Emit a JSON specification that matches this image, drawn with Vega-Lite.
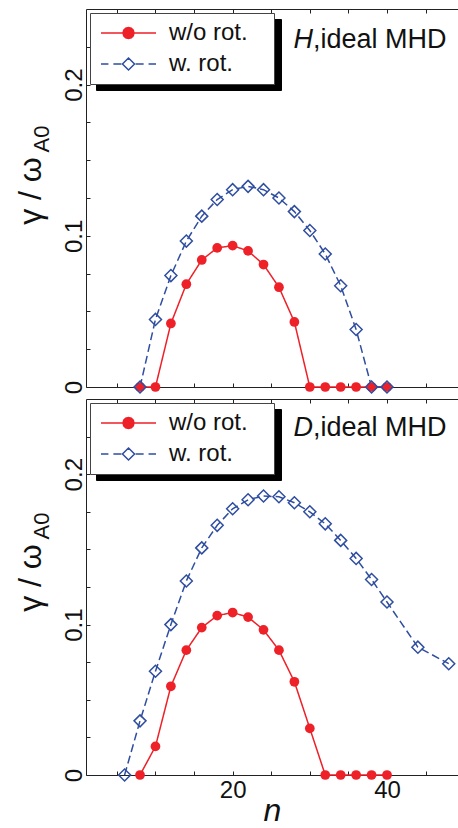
{
  "$schema": "https://vega.github.io/schema/vega-lite/v6.json",
  "background": "white",
  "padding": {"left": 14, "top": 8, "right": 0, "bottom": 0},
  "autosize": {"type": "pad"},
  "spacing": 2,
  "config": {
    "view": {"stroke": null},
    "font": "Liberation Sans",
    "axis": {
      "grid": false, "domainColor": "#222", "tickColor": "#222", "domainWidth": 1, "tickWidth": 1,
      "labelFont": "Liberation Sans", "titleFont": "Liberation Sans", "labelFontSize": 24,
      "labelColor": "#111", "titleColor": "#111", "titleFontWeight": "normal", "tickSize": -4
    },
    "legend": {
      "title": null, "padding": 8, "labelFont": "Liberation Sans", "labelFontSize": 24, "labelColor": "#111",
      "symbolSize": 576, "clipHeight": 24, "rowPadding": 7, "symbolOffset": 2, "labelOffset": 12,
      "symbolStrokeWidth": 1.5
    }
  },
  "datasets": {
    "curves": [
      {"panel": "H", "series": "w/o rot.", "n": 8, "g": 0},
      {"panel": "H", "series": "w/o rot.", "n": 10, "g": 0},
      {"panel": "H", "series": "w/o rot.", "n": 12, "g": 0.042},
      {"panel": "H", "series": "w/o rot.", "n": 14, "g": 0.068},
      {"panel": "H", "series": "w/o rot.", "n": 16, "g": 0.084},
      {"panel": "H", "series": "w/o rot.", "n": 18, "g": 0.092},
      {"panel": "H", "series": "w/o rot.", "n": 20, "g": 0.0935},
      {"panel": "H", "series": "w/o rot.", "n": 22, "g": 0.090},
      {"panel": "H", "series": "w/o rot.", "n": 24, "g": 0.081},
      {"panel": "H", "series": "w/o rot.", "n": 26, "g": 0.066},
      {"panel": "H", "series": "w/o rot.", "n": 28, "g": 0.043},
      {"panel": "H", "series": "w/o rot.", "n": 30, "g": 0},
      {"panel": "H", "series": "w/o rot.", "n": 32, "g": 0},
      {"panel": "H", "series": "w/o rot.", "n": 34, "g": 0},
      {"panel": "H", "series": "w/o rot.", "n": 36, "g": 0},
      {"panel": "H", "series": "w/o rot.", "n": 38, "g": 0},
      {"panel": "H", "series": "w/o rot.", "n": 40, "g": 0},
      {"panel": "H", "series": "w. rot.", "n": 8, "g": 0},
      {"panel": "H", "series": "w. rot.", "n": 10, "g": 0.0447},
      {"panel": "H", "series": "w. rot.", "n": 12, "g": 0.0737},
      {"panel": "H", "series": "w. rot.", "n": 14, "g": 0.0965},
      {"panel": "H", "series": "w. rot.", "n": 16, "g": 0.113},
      {"panel": "H", "series": "w. rot.", "n": 18, "g": 0.124},
      {"panel": "H", "series": "w. rot.", "n": 20, "g": 0.1305},
      {"panel": "H", "series": "w. rot.", "n": 22, "g": 0.1327},
      {"panel": "H", "series": "w. rot.", "n": 24, "g": 0.1305},
      {"panel": "H", "series": "w. rot.", "n": 26, "g": 0.125},
      {"panel": "H", "series": "w. rot.", "n": 28, "g": 0.116},
      {"panel": "H", "series": "w. rot.", "n": 30, "g": 0.1035},
      {"panel": "H", "series": "w. rot.", "n": 32, "g": 0.088},
      {"panel": "H", "series": "w. rot.", "n": 34, "g": 0.067},
      {"panel": "H", "series": "w. rot.", "n": 36, "g": 0.038},
      {"panel": "H", "series": "w. rot.", "n": 38, "g": 0},
      {"panel": "H", "series": "w. rot.", "n": 40, "g": 0},
      {"panel": "D", "series": "w/o rot.", "n": 8, "g": 0},
      {"panel": "D", "series": "w/o rot.", "n": 10, "g": 0.019},
      {"panel": "D", "series": "w/o rot.", "n": 12, "g": 0.059},
      {"panel": "D", "series": "w/o rot.", "n": 14, "g": 0.083},
      {"panel": "D", "series": "w/o rot.", "n": 16, "g": 0.098},
      {"panel": "D", "series": "w/o rot.", "n": 18, "g": 0.106},
      {"panel": "D", "series": "w/o rot.", "n": 20, "g": 0.108},
      {"panel": "D", "series": "w/o rot.", "n": 22, "g": 0.105},
      {"panel": "D", "series": "w/o rot.", "n": 24, "g": 0.0965},
      {"panel": "D", "series": "w/o rot.", "n": 26, "g": 0.083},
      {"panel": "D", "series": "w/o rot.", "n": 28, "g": 0.062},
      {"panel": "D", "series": "w/o rot.", "n": 30, "g": 0.031},
      {"panel": "D", "series": "w/o rot.", "n": 32, "g": 0},
      {"panel": "D", "series": "w/o rot.", "n": 34, "g": 0},
      {"panel": "D", "series": "w/o rot.", "n": 36, "g": 0},
      {"panel": "D", "series": "w/o rot.", "n": 38, "g": 0},
      {"panel": "D", "series": "w/o rot.", "n": 40, "g": 0},
      {"panel": "D", "series": "w. rot.", "n": 6, "g": 0},
      {"panel": "D", "series": "w. rot.", "n": 8, "g": 0.036},
      {"panel": "D", "series": "w. rot.", "n": 10, "g": 0.069},
      {"panel": "D", "series": "w. rot.", "n": 12, "g": 0.100},
      {"panel": "D", "series": "w. rot.", "n": 14, "g": 0.129},
      {"panel": "D", "series": "w. rot.", "n": 16, "g": 0.151},
      {"panel": "D", "series": "w. rot.", "n": 18, "g": 0.166},
      {"panel": "D", "series": "w. rot.", "n": 20, "g": 0.177},
      {"panel": "D", "series": "w. rot.", "n": 22, "g": 0.183},
      {"panel": "D", "series": "w. rot.", "n": 24, "g": 0.1855},
      {"panel": "D", "series": "w. rot.", "n": 26, "g": 0.185},
      {"panel": "D", "series": "w. rot.", "n": 28, "g": 0.181},
      {"panel": "D", "series": "w. rot.", "n": 30, "g": 0.175},
      {"panel": "D", "series": "w. rot.", "n": 32, "g": 0.167},
      {"panel": "D", "series": "w. rot.", "n": 34, "g": 0.156},
      {"panel": "D", "series": "w. rot.", "n": 36, "g": 0.144},
      {"panel": "D", "series": "w. rot.", "n": 38, "g": 0.130},
      {"panel": "D", "series": "w. rot.", "n": 40, "g": 0.115},
      {"panel": "D", "series": "w. rot.", "n": 44, "g": 0.085},
      {"panel": "D", "series": "w. rot.", "n": 48, "g": 0.074}
    ],
    "notes": [
      {"panel": "H", "letter": "H", "rest": ",ideal MHD"},
      {"panel": "D", "letter": "D", "rest": ",ideal MHD"}
    ]
  },
  "resolve": {
    "scale": {"color": "independent", "opacity": "independent"},
    "legend": {"color": "independent", "opacity": "independent"}
  },
  "vconcat": [
    {
      "width": 372, "height": 378,
      "data": {"name": "curves"},
      "transform": [{"filter": "datum.panel === 'H'"}],
      "resolve": {"axis": {"y": "independent"}},
      "layer": [
        {
          "mark": {"type": "line", "strokeWidth": 1.5},
          "encoding": {
            "x": {"field": "n", "type": "quantitative", "scale": {"domain": [1, 49.2], "nice": false, "zero": false},
                  "axis": {"orient": "bottom", "values": [5,10,15,20,25,30,35,40,45], "labels": false, "title": null}},
            "y": {"field": "g", "type": "quantitative", "scale": {"domain": [0, 0.25], "nice": false},
                  "axis": {"orient": "left", "values": [0,0.025,0.05,0.075,0.1,0.125,0.15,0.175,0.2,0.225],
                           "labelExpr": "round(datum.value*1000) % 100 === 0 ? format(datum.value, '~g') : ''",
                           "labelAngle": 270, "labelAlign": "center", "labelBaseline": "alphabetic", "labelPadding": 9,
                           "title": "γ / ω", "titleFontSize": 32, "titleAlign": "center", "titleY": 181.5, "titlePadding": 15}},
            "color": {"field": "series", "type": "nominal",
                      "scale": {"domain": ["w/o rot.", "w. rot."], "range": ["#ee2028", "#2f4ea0"]},
                      "legend": {"orient": "top-left", "offset": 4, "fillColor": "white", "strokeColor": "#444", "zindex": 1,
                                 "encode": {
                                   "labels": {"update": {"text": {"signal": "datum.label + '\u2800'"}}},
                                   "symbols": {"update": {
                                   "size": {"value": 3025},
                                   "shape": {"signal": "datum.value === 'w/o rot.' ? 'M-1,0H1M0.2,0L0.173,0.1L0.1,0.173L0,0.2L-0.1,0.173L-0.173,0.1L-0.2,0L-0.173,-0.1L-0.1,-0.173L0,-0.2L0.1,-0.173L0.173,-0.1Z' : 'M-1,0H-0.73M-0.55,0H-0.26M0.26,0H0.55M0.73,0H1M0,-0.22L0.22,0L0,0.22L-0.22,0Z'"},
                                   "fill": {"signal": "datum.value === 'w/o rot.' ? '#ee2028' : '#ffffff'"},
                                   "stroke": {"signal": "datum.value === 'w/o rot.' ? '#ee2028' : '#2f4ea0'"},
                                   "strokeWidth": {"value": 1.5},
                                   "strokeDash": {"value": []},
                                   "opacity": {"value": 1}
                                 }}}}},
            "opacity": {"field": "series", "type": "nominal",
                        "scale": {"domain": ["w/o rot.", "w. rot."], "range": [1, 1]},
                        "legend": {"orient": "none", "legendX": 10, "legendY": 10, "fillColor": "black", "strokeColor": "black", "labelColor": "black", "zindex": 0,
                                   "symbolOffset": 0, "labelOffset": -7,
                                   "encode": {
                                     "labels": {"update": {"text": {"value": "\u00a0"}}},
                                     "symbols": {"update": {
                                     "size": {"value": 30976},
                                     "shape": {"value": "M-1,-0.1H1V0.1H-1Z"},
                                     "fill": {"value": "black"}, "stroke": {"value": "black"}, "strokeWidth": {"value": 0}, "opacity": {"value": 1}
                                   }}}}},
            "strokeDash": {"field": "series", "type": "nominal",
                           "scale": {"domain": ["w/o rot.", "w. rot."], "range": [[1, 0], [8, 4]]}, "legend": null}
          }
        },
        {
          "transform": [{"filter": "datum.series === 'w/o rot.'"}],
          "mark": {"type": "point", "shape": "circle", "filled": true, "color": "#ee2028", "size": 95, "opacity": 1},
          "encoding": {"x": {"field": "n", "type": "quantitative", "axis": null}, "y": {"field": "g", "type": "quantitative", "axis": null}}
        },
        {
          "transform": [{"filter": "datum.series === 'w. rot.'"}],
          "mark": {"type": "point", "shape": "diamond", "filled": false, "color": "#2f4ea0", "size": 144, "strokeWidth": 1.5, "opacity": 1},
          "encoding": {"x": {"field": "n", "type": "quantitative", "axis": null}, "y": {"field": "g", "type": "quantitative", "axis": null}}
        },
        {
          "data": {"name": "notes"},
          "transform": [{"filter": "datum.panel === 'H'"}],
          "mark": {"type": "text", "fontSize": 27, "fontStyle": "italic", "align": "right", "baseline": "alphabetic", "color": "#111"},
          "encoding": {
            "x": {"datum": 30.4, "type": "quantitative", "axis": {"orient": "top", "values": [5,10,15,20,25,30,35,40,45], "labels": false, "title": null}},
            "y": {"datum": 0.2245, "type": "quantitative",
                  "axis": {"orient": "left", "labels": false, "ticks": false, "domain": false, "title": "A0", "titleFontSize": 22,
                           "titleAlign": "center", "titleY": 129.5, "titlePadding": 33}},
            "text": {"field": "letter"}
          }
        },
        {
          "data": {"name": "notes"},
          "transform": [{"filter": "datum.panel === 'H'"}],
          "mark": {"type": "text", "fontSize": 27, "align": "left", "baseline": "alphabetic", "color": "#111"},
          "encoding": {
            "x": {"datum": 30.4, "type": "quantitative", "axis": null},
            "y": {"datum": 0.2245, "type": "quantitative", "axis": null},
            "text": {"field": "rest"}
          }
        }
      ]
    },
    {
      "width": 372, "height": 376,
      "data": {"name": "curves"},
      "transform": [{"filter": "datum.panel === 'D'"}],
      "resolve": {"axis": {"y": "independent"}},
      "layer": [
        {
          "mark": {"type": "line", "strokeWidth": 1.5},
          "encoding": {
            "x": {"field": "n", "type": "quantitative", "scale": {"domain": [1, 49.2], "nice": false, "zero": false},
                  "axis": {"orient": "bottom", "values": [5,10,15,20,25,30,35,40,45],
                           "labelExpr": "datum.value % 20 === 0 ? datum.label : ''", "labelPadding": 7,
                           "title": "n", "titleFontSize": 32, "titleFontStyle": "italic", "titlePadding": -7}},
            "y": {"field": "g", "type": "quantitative", "scale": {"domain": [0, 0.25], "nice": false},
                  "axis": {"orient": "left", "values": [0,0.025,0.05,0.075,0.1,0.125,0.15,0.175,0.2,0.225],
                           "labelExpr": "round(datum.value*1000) % 100 === 0 ? format(datum.value, '~g') : ''",
                           "labelAngle": 270, "labelAlign": "center", "labelBaseline": "alphabetic", "labelPadding": 9,
                           "title": "γ / ω", "titleFontSize": 32, "titleAlign": "center", "titleY": 178.5, "titlePadding": 15}},
            "color": {"field": "series", "type": "nominal",
                      "scale": {"domain": ["w/o rot.", "w. rot."], "range": ["#ee2028", "#2f4ea0"]},
                      "legend": {"orient": "top-left", "offset": 4, "fillColor": "white", "strokeColor": "#444", "zindex": 1,
                                 "encode": {
                                   "labels": {"update": {"text": {"signal": "datum.label + '\u2800'"}}},
                                   "symbols": {"update": {
                                   "size": {"value": 3025},
                                   "shape": {"signal": "datum.value === 'w/o rot.' ? 'M-1,0H1M0.2,0L0.173,0.1L0.1,0.173L0,0.2L-0.1,0.173L-0.173,0.1L-0.2,0L-0.173,-0.1L-0.1,-0.173L0,-0.2L0.1,-0.173L0.173,-0.1Z' : 'M-1,0H-0.73M-0.55,0H-0.26M0.26,0H0.55M0.73,0H1M0,-0.22L0.22,0L0,0.22L-0.22,0Z'"},
                                   "fill": {"signal": "datum.value === 'w/o rot.' ? '#ee2028' : '#ffffff'"},
                                   "stroke": {"signal": "datum.value === 'w/o rot.' ? '#ee2028' : '#2f4ea0'"},
                                   "strokeWidth": {"value": 1.5},
                                   "strokeDash": {"value": []},
                                   "opacity": {"value": 1}
                                 }}}}},
            "opacity": {"field": "series", "type": "nominal",
                        "scale": {"domain": ["w/o rot.", "w. rot."], "range": [1, 1]},
                        "legend": {"orient": "none", "legendX": 10, "legendY": 10, "fillColor": "black", "strokeColor": "black", "labelColor": "black", "zindex": 0,
                                   "symbolOffset": 0, "labelOffset": -7,
                                   "encode": {
                                     "labels": {"update": {"text": {"value": "\u00a0"}}},
                                     "symbols": {"update": {
                                     "size": {"value": 30976},
                                     "shape": {"value": "M-1,-0.1H1V0.1H-1Z"},
                                     "fill": {"value": "black"}, "stroke": {"value": "black"}, "strokeWidth": {"value": 0}, "opacity": {"value": 1}
                                   }}}}},
            "strokeDash": {"field": "series", "type": "nominal",
                           "scale": {"domain": ["w/o rot.", "w. rot."], "range": [[1, 0], [8, 4]]}, "legend": null}
          }
        },
        {
          "transform": [{"filter": "datum.series === 'w/o rot.'"}],
          "mark": {"type": "point", "shape": "circle", "filled": true, "color": "#ee2028", "size": 95, "opacity": 1},
          "encoding": {"x": {"field": "n", "type": "quantitative", "axis": null}, "y": {"field": "g", "type": "quantitative", "axis": null}}
        },
        {
          "transform": [{"filter": "datum.series === 'w. rot.'"}],
          "mark": {"type": "point", "shape": "diamond", "filled": false, "color": "#2f4ea0", "size": 144, "strokeWidth": 1.5, "opacity": 1},
          "encoding": {"x": {"field": "n", "type": "quantitative", "axis": null}, "y": {"field": "g", "type": "quantitative", "axis": null}}
        },
        {
          "data": {"name": "notes"},
          "transform": [{"filter": "datum.panel === 'D'"}],
          "mark": {"type": "text", "fontSize": 27, "fontStyle": "italic", "align": "right", "baseline": "alphabetic", "color": "#111"},
          "encoding": {
            "x": {"datum": 30.4, "type": "quantitative", "axis": {"orient": "top", "values": [5,10,15,20,25,30,35,40,45], "labels": false, "title": null}},
            "y": {"datum": 0.2254, "type": "quantitative",
                  "axis": {"orient": "left", "labels": false, "ticks": false, "domain": false, "title": "A0", "titleFontSize": 22,
                           "titleAlign": "center", "titleY": 126.5, "titlePadding": 33}},
            "text": {"field": "letter"}
          }
        },
        {
          "data": {"name": "notes"},
          "transform": [{"filter": "datum.panel === 'D'"}],
          "mark": {"type": "text", "fontSize": 27, "align": "left", "baseline": "alphabetic", "color": "#111"},
          "encoding": {
            "x": {"datum": 30.4, "type": "quantitative", "axis": null},
            "y": {"datum": 0.2254, "type": "quantitative", "axis": null},
            "text": {"field": "rest"}
          }
        }
      ]
    }
  ]
}
